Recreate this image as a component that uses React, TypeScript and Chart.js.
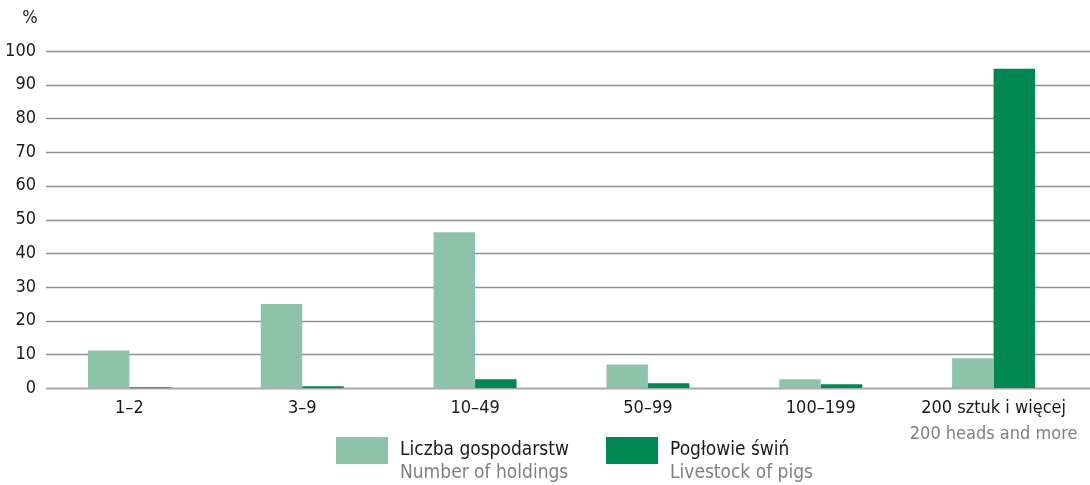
import React, { useEffect, useRef } from "react";
import { Chart, registerables } from "chart.js";

Chart.register(...registerables);

const categories = ["1–2", "3–9", "10–49", "50–99", "100–199", "200 sztuk i więcej"];
const categorySubtitles = ["", "", "", "", "", "200 heads and more"];
const holdings = [11.1, 24.9, 46.2, 7.0, 2.6, 8.8];
const pigs = [0.2, 0.5, 2.6, 1.4, 1.1, 94.7];
const seriesPl = ["Liczba gospodarstw", "Pogłowie świń"];
const seriesEn = ["Number of holdings", "Livestock of pigs"];
const unitLabel = "%";

const LIGHT = "#8cc3aa";
const DARK = "#008752";
const FONT = "'Liberation Sans Narrow', 'DejaVu Sans Condensed', 'Open Sans', sans-serif";

export default function App() {
  const ref = useRef<HTMLCanvasElement>(null);

  useEffect(() => {
    document.body.style.margin = "0";
    const extras = {
      id: "extras",
      beforeDatasetsDraw(chart: any) {
        const ctx = chart.ctx;
        const y = chart.scales.y;
        ctx.save();
        for (let v = 0; v <= 100; v += 10) {
          const py = Math.round(y.getPixelForValue(v)) + 0.5;
          ctx.beginPath();
          ctx.strokeStyle = v === 0 ? "#a8a8a8" : "#8e8e8e";
          ctx.lineWidth = v === 0 ? 2 : 1.3;
          ctx.moveTo(46, py);
          ctx.lineTo(chart.width, py);
          ctx.stroke();
        }
        ctx.restore();
      },
      afterDraw(chart: any) {
        const ctx = chart.ctx;
        const x = chart.scales.x;
        ctx.save();
        ctx.font = `18px ${FONT}`;
        ctx.fillStyle = "#808080";
        ctx.textAlign = "center";
        ctx.textBaseline = "middle";
        categorySubtitles.forEach((s, i) => {
          if (s) ctx.fillText(s, x.getPixelForTick(i), 434);
        });
        ctx.fillStyle = "#222";
        ctx.fillText(unitLabel, 30, 18);
        ctx.restore();
      },
    };
    const chart = new Chart(ref.current!, {
      type: "bar",
      data: {
        labels: categories,
        datasets: [
          { label: seriesPl[0], data: holdings, backgroundColor: LIGHT, barPercentage: 1, categoryPercentage: 0.48 },
          { label: seriesPl[1], data: pigs, backgroundColor: DARK, barPercentage: 1, categoryPercentage: 0.48 },
        ],
      },
      options: {
        responsive: false,
        animation: false,
        layout: { padding: { top: 51, right: 10, left: 0, bottom: 0 } },
        plugins: { legend: { display: false }, tooltip: { enabled: false } },
        scales: {
          x: {
            grid: { display: false, drawTicks: false },
            border: { display: false },
            ticks: { color: "#1a1a1a", font: { family: FONT, size: 18 }, padding: 10, maxRotation: 0, autoSkip: false },
            afterFit: (s: any) => { s.height = 97; },
          },
          y: {
            min: 0,
            max: 100,
            grid: { display: false, drawTicks: false },
            border: { display: false },
            ticks: { stepSize: 10, color: "#1a1a1a", font: { family: FONT, size: 18 }, padding: 7 },
            afterFit: (s: any) => { s.width = 43; },
          },
        },
      },
      plugins: [extras],
    });
    return () => chart.destroy();
  }, []);

  const legendItem = (i: number, left: number, color: string) => (
    <div style={{ position: "absolute", left, top: 437, display: "flex", fontFamily: FONT }}>
      <div style={{ width: 52, height: 27, background: color }} />
      <div style={{ marginLeft: 12, marginTop: 0 }}>
        <div style={{ fontSize: 19, color: "#1a1a1a", lineHeight: "23px" }}>{seriesPl[i]}</div>
        <div style={{ fontSize: 19, color: "#808080", lineHeight: "23px" }}>{seriesEn[i]}</div>
      </div>
    </div>
  );

  return (
    <div style={{ position: "relative", width: 1090, height: 485, overflow: "hidden", background: "#fff" }}>
      <canvas ref={ref} width={1090} height={485} style={{ display: "block" }} />
      {legendItem(0, 336, LIGHT)}
      {legendItem(1, 606, DARK)}
    </div>
  );
}
